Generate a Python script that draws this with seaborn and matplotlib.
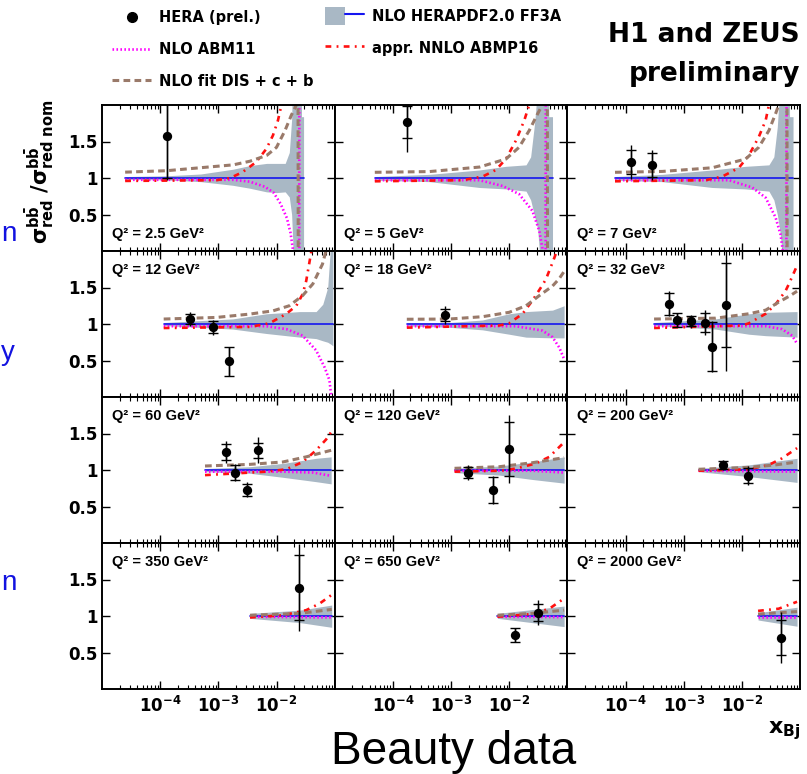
import numpy as np
import matplotlib
matplotlib.use("Agg")
import matplotlib.pyplot as plt
import seaborn as sns
from matplotlib.lines import Line2D
from matplotlib.patches import Patch
from matplotlib.legend_handler import HandlerTuple
from matplotlib.ticker import FixedLocator, LogLocator, NullFormatter

# ---------------- data ----------------
Q2_LABELS = ["2.5", "5", "7", "12", "18", "32", "60", "120", "200", "350", "650", "2000"]

# HERA (prel.) beauty reduced cross-section ratio
DATA_X = [
    [1.3e-4],
    [1.77e-4],
    [1.26e-4, 2.8e-4],
    [3.2e-4, 8.1e-4, 1.5e-3],
    [7.9e-4],
    [5.7e-4, 7.8e-4, 1.35e-3, 2.3e-3, 3.1e-3, 5.3e-3],
    [1.38e-3, 1.95e-3, 3.1e-3, 4.9e-3],
    [1.94e-3, 5.3e-3, 9.8e-3],
    [4.8e-3, 1.27e-2],
    [2.4e-2],
    [1.27e-2, 3.1e-2],
    [4.8e-2],
]
DATA_Y = [
    [1.57], [1.77], [1.22, 1.18], [1.07, 0.955, 0.49], [1.12],
    [1.28, 1.055, 1.036, 1.02, 0.69, 1.26],
    [1.25, 0.964, 0.73, 1.27],
    [0.964, 0.73, 1.29],
    [1.068, 0.923],
    [1.39],
    [0.74, 1.045],
    [0.705],
]
DATA_STAT = [
    [0.57], [0.22], [0.17, 0.16], [0.07, 0.08, 0.2], [0.08],
    [0.15, 0.09, 0.07, 0.13, 0.34, 0.57],
    [0.11, 0.10, 0.08, 0.10],
    [0.08, 0.18, 0.37],
    [0.05, 0.10],
    [0.45],
    [0.09, 0.12],
    [0.24],
]
DATA_TOT = [
    [0.60], [0.42], [0.23, 0.21], [0.10, 0.10, 0.20], [0.12],
    [0.17, 0.10, 0.09, 0.17, 0.35, 0.90],
    [0.15, 0.12, 0.10, 0.18],
    [0.10, 0.19, 0.47],
    [0.07, 0.13],
    [0.60],
    [0.10, 0.17],
    [0.35],
]

# NLO HERAPDF2.0 FF3A: nominal (=1) and uncertainty band
NOM_X = [
    [2.5e-5, 2.92e-2], [4.9e-5, 5.56e-2], [6.6e-5, 7.59e-2],
    [1.15e-4, 9.33e-2], [1.74e-4, 8.8e-2], [3.1e-4, 8.9e-2],
    [5.9e-4, 8.7e-2], [1.15e-3, 8.8e-2], [1.8e-3, 8.9e-2],
    [3.5e-3, 8.9e-2], [6.3e-3, 8.8e-2], [1.9e-2, 8.9e-2],
]
NOM_Y = [1.0, 1.0]

BAND_X = [
    [2.5e-5, 1.26e-4, 5.0e-4, 1.78e-3, 3.47e-3, 6.76e-3, 1.0e-2, 1.41e-2, 1.66e-2, 1.82e-2, 1.91e-2, 2.0e-2, 2.66e-2, 2.69e-2, 2.92e-2],
    [4.9e-5, 4.27e-4, 3.09e-3, 8.8e-3, 1.95e-2, 2.34e-2, 2.69e-2, 3.09e-2, 3.31e-2, 3.47e-2, 4.68e-2, 4.79e-2, 5.56e-2],
    [6.6e-5, 4.3e-4, 3.09e-3, 1.16e-2, 2.92e-2, 3.55e-2, 4.07e-2, 4.47e-2, 4.9e-2, 5.13e-2, 6.46e-2, 6.61e-2, 7.59e-2],
    [1.15e-4, 1.78e-3, 6.68e-3, 2.51e-2, 4.79e-2, 6.24e-2, 7.59e-2, 8.71e-2, 9.33e-2],
    [1.74e-4, 9.3e-4, 3.47e-3, 1.0e-2, 1.95e-2, 5.56e-2, 8.8e-2],
    [3.1e-4, 3.55e-3, 1.32e-2, 2.57e-2, 8.9e-2],
    [5.9e-4, 3.47e-3, 1.29e-2, 4.79e-2, 8.7e-2],
    [1.15e-3, 6.76e-3, 2.51e-2, 8.8e-2],
    [1.8e-3, 1.32e-2, 8.9e-2],
    [3.5e-3, 2.51e-2, 8.9e-2],
    [6.3e-3, 8.8e-2],
    [1.9e-2, 8.9e-2],
]
BAND_HI = [
    [1.02, 1.03, 1.055, 1.12, 1.17, 1.20, 1.20, 1.20, 1.35, 1.8, 2.5, 5, 5, 1.84, 1.84],
    [1.02, 1.05, 1.11, 1.16, 1.18, 1.29, 1.70, 2.2, 5, 5, 5, 1.84, 1.84],
    [1.02, 1.05, 1.11, 1.16, 1.18, 1.29, 1.70, 2.2, 5, 5, 5, 1.84, 1.84],
    [1.02, 1.07, 1.14, 1.17, 1.17, 1.27, 1.50, 2.2, 2.5],
    [1.015, 1.02, 1.055, 1.14, 1.17, 1.19, 1.25],
    [1.02, 1.07, 1.14, 1.16, 1.17],
    [1.02, 1.045, 1.09, 1.16, 1.18],
    [1.023, 1.055, 1.11, 1.18],
    [1.023, 1.07, 1.16],
    [1.036, 1.08, 1.15],
    [1.036, 1.136],
    [1.045, 1.12],
]
BAND_LO = [
    [0.98, 0.975, 0.95, 0.90, 0.86, 0.81, 0.80, 0.81, 0.74, 0.5, 0.1, -5, -5, -5, -5],
    [0.97, 0.95, 0.87, 0.85, 0.82, 0.70, 0.50, 0.30, 0.0, -5, -5, -5, -5],
    [0.97, 0.95, 0.87, 0.85, 0.82, 0.70, 0.50, 0.30, 0.0, -5, -5, -5, -5],
    [0.98, 0.93, 0.87, 0.82, 0.80, 0.77, 0.75, 0.72, 0.70],
    [0.975, 0.955, 0.92, 0.86, 0.82, 0.81, 0.81],
    [0.98, 0.93, 0.86, 0.84, 0.82],
    [0.977, 0.955, 0.90, 0.84, 0.81],
    [0.964, 0.93, 0.87, 0.82],
    [0.977, 0.91, 0.83],
    [0.968, 0.91, 0.845],
    [0.968, 0.855],
    [0.945, 0.86],
]

# NLO fit DIS + c + b (brown dashed)
DIS_X = [
    [2.5e-5, 1.3e-4, 4.8e-4, 1.8e-3, 3.5e-3, 6.8e-3, 1.0e-2, 1.4e-2, 1.8e-2, 2.2e-2, 2.34e-2, 2.37e-2],
    [4.9e-5, 4.27e-4, 3.09e-3, 8.8e-3, 1.48e-2, 2.21e-2, 3.09e-2, 3.72e-2, 3.98e-2, 4.52e-2, 4.57e-2],
    [6.6e-5, 4.3e-4, 3.09e-3, 1.16e-2, 1.95e-2, 2.92e-2, 3.8e-2, 4.3e-2, 4.68e-2, 5.96e-2, 6.03e-2],
    [1.15e-4, 9.3e-4, 3.47e-3, 8.7e-3, 1.66e-2, 2.82e-2, 4.22e-2, 6.17e-2, 7.08e-2, 7.94e-2],
    [1.74e-4, 9.3e-4, 3.47e-3, 1.0e-2, 1.95e-2, 3.31e-2, 5.56e-2, 7.24e-2, 8.8e-2],
    [3.1e-4, 3.55e-3, 1.32e-2, 2.57e-2, 4.32e-2, 6.84e-2, 8.9e-2],
    [5.9e-4, 3.47e-3, 1.29e-2, 3.24e-2, 6.24e-2, 8.7e-2],
    [1.15e-3, 6.76e-3, 2.51e-2, 4.9e-2, 8.8e-2],
    [1.8e-3, 1.32e-2, 3.8e-2, 8.9e-2],
    [3.5e-3, 2.51e-2, 8.9e-2],
    [6.3e-3, 2.51e-2, 8.8e-2],
    [1.9e-2, 8.9e-2],
]
DIS_Y = [
    [1.08, 1.10, 1.14, 1.18, 1.23, 1.31, 1.42, 1.65, 1.86, 2.0, 3.0, -1.0],
    [1.078, 1.088, 1.15, 1.26, 1.42, 1.65, 1.88, 2.0, 3.0, 3.0, -1.0],
    [1.078, 1.09, 1.14, 1.26, 1.42, 1.65, 1.88, 2.0, 3.0, 3.0, -1.0],
    [1.068, 1.09, 1.136, 1.18, 1.25, 1.39, 1.55, 1.82, 2.0, 2.3],
    [1.065, 1.068, 1.10, 1.16, 1.25, 1.39, 1.52, 1.62, 1.72],
    [1.068, 1.08, 1.14, 1.19, 1.30, 1.39, 1.45],
    [1.055, 1.077, 1.11, 1.18, 1.24, 1.27],
    [1.023, 1.045, 1.10, 1.136, 1.17],
    [1.01, 1.036, 1.07, 1.11],
    [1.01, 1.036, 1.09],
    [1.01, 1.036, 1.08],
    [1.027, 1.06],
]

# appr. NNLO ABMP16 (red dash-dot)
ABMP16_X = [
    [2.5e-5, 9.3e-4, 1.6e-3, 2.6e-3, 4.5e-3, 6.7e-3, 8.7e-3, 1.06e-2, 1.2e-2, 1.26e-2],
    [4.9e-5, 1.58e-3, 3.5e-3, 5.9e-3, 8.8e-3, 1.32e-2, 1.82e-2, 2.21e-2, 2.4e-2],
    [6.6e-5, 2.4e-3, 4.62e-3, 8.9e-3, 1.32e-2, 1.95e-2, 2.57e-2, 2.92e-2, 3.16e-2],
    [1.15e-4, 3.47e-3, 7.59e-3, 1.48e-2, 2.19e-2, 2.82e-2, 3.24e-2, 3.98e-2, 4.47e-2],
    [1.74e-4, 6.76e-3, 1.0e-2, 1.7e-2, 2.51e-2, 3.51e-2, 4.27e-2, 5.62e-2, 6.61e-2, 7.94e-2],
    [3.1e-4, 1.02e-2, 1.32e-2, 2.57e-2, 3.8e-2, 5.62e-2, 6.46e-2, 8.9e-2],
    [5.9e-4, 6.68e-3, 1.48e-2, 2.82e-2, 4.79e-2, 7.16e-2, 8.7e-2],
    [1.15e-3, 6.76e-3, 1.32e-2, 2.88e-2, 4.9e-2, 8.3e-2],
    [1.8e-3, 1.32e-2, 2.92e-2, 4.9e-2, 8.9e-2],
    [3.5e-3, 1.29e-2, 3.24e-2, 5.5e-2, 8.9e-2],
    [6.3e-3, 2.51e-2, 4.9e-2, 8.8e-2],
    [1.9e-2, 4.3e-2, 8.9e-2],
]
ABMP16_Y = [
    [0.96, 0.97, 1.0, 1.08, 1.22, 1.40, 1.585, 1.79, 1.98, 2.3],
    [0.955, 0.97, 1.02, 1.11, 1.26, 1.52, 1.79, 2.0, 2.4],
    [0.955, 0.97, 1.02, 1.14, 1.31, 1.56, 1.79, 2.0, 2.4],
    [0.945, 0.96, 1.01, 1.14, 1.25, 1.41, 1.59, 2.0, 2.3],
    [0.95, 0.98, 1.01, 1.14, 1.32, 1.5, 1.61, 1.85, 2.0, 2.3],
    [0.945, 0.98, 1.01, 1.14, 1.27, 1.45, 1.55, 1.8],
    [0.93, 0.977, 1.01, 1.11, 1.27, 1.42, 1.52],
    [0.977, 0.99, 1.02, 1.09, 1.18, 1.36],
    [0.99, 1.01, 1.07, 1.16, 1.30],
    [0.98, 1.01, 1.08, 1.17, 1.29],
    [0.99, 1.027, 1.10, 1.24],
    [1.07, 1.10, 1.195],
]

# NLO ABM11 (magenta dotted)
ABM11_X = [
    [2.5e-5, 1.78e-3, 3.47e-3, 6.3e-3, 8.9e-3, 1.17e-2, 1.51e-2, 1.74e-2, 1.9e-2, 1.95e-2, 2.45e-2, 2.48e-2],
    [4.9e-5, 3.09e-3, 7.76e-3, 1.48e-2, 2.51e-2, 3.31e-2, 3.72e-2, 3.8e-2, 4.22e-2, 4.27e-2],
    [6.6e-5, 6.0e-3, 1.51e-2, 2.57e-2, 3.8e-2, 4.62e-2, 5.07e-2, 5.25e-2, 5.82e-2, 5.89e-2],
    [1.15e-4, 6.68e-3, 1.48e-2, 2.82e-2, 4.79e-2, 6.68e-2, 8.13e-2, 8.71e-2, 8.91e-2],
    [1.74e-4, 1.3e-2, 3.72e-2, 5.56e-2, 7.24e-2, 8.8e-2],
    [3.1e-4, 2.57e-2, 4.9e-2, 7.33e-2, 8.9e-2],
    [5.9e-4, 1.29e-2, 4.27e-2, 8.7e-2],
    [1.15e-3, 2.51e-2, 8.8e-2],
    [1.8e-3, 8.9e-2],
    [3.5e-3, 8.9e-2],
    [6.3e-3, 8.8e-2],
    [1.9e-2, 8.9e-2],
]
ABM11_Y = [
    [0.975, 0.975, 0.95, 0.88, 0.80, 0.65, 0.45, 0.25, 0.04, -1.0, -1.0, 3.0],
    [0.97, 0.97, 0.89, 0.78, 0.55, 0.27, 0.04, -1.0, -1.0, 3.0],
    [0.97, 0.97, 0.87, 0.73, 0.46, 0.23, 0.0, -1.0, -1.0, 3.0],
    [0.97, 0.97, 0.93, 0.84, 0.64, 0.41, 0.23, 0.02, -0.5],
    [0.97, 0.97, 0.91, 0.82, 0.68, 0.52],
    [0.97, 0.97, 0.93, 0.84, 0.73],
    [0.977, 0.977, 0.965, 0.92],
    [0.99, 0.99, 0.965],
    [0.99, 0.977],
    [0.99, 0.98],
    [0.99, 0.985],
    [0.99, 0.99],
]

X_TICKS = [1e-4, 1e-3, 1e-2]
X_TICKLABELS = [r"$\mathbf{10^{-4}}$", r"$\mathbf{10^{-3}}$", r"$\mathbf{10^{-2}}$"]
Y_TICKS = [0.5, 1.0, 1.5]
Y_TICKLABELS = ["0.5", "1", "1.5"]

# ---------------- style ----------------
BAND_C = "#a9b8c5"
BLUE = "#1515f0"
MAGENTA = "#ff00ff"
RED = "#ff1010"
BROWN = "#9a7a6a"
DOTTED = (0, (0.6, 0.9))
DASHDOT = (0, (2.2, 2.0, 0.7, 2.0))
DASHED = (0, (2.2, 1.4))

sns.set_style("ticks")
plt.rcParams["font.family"] = ["DejaVu Sans"]
plt.rcParams["mathtext.fontset"] = "dejavusans"
plt.rcParams["axes.linewidth"] = 1.4
for key in ["text.color", "axes.labelcolor", "xtick.color", "ytick.color", "axes.edgecolor"]:
    plt.rcParams[key] = "black"

fig, axes = plt.subplots(4, 3, figsize=(8.07, 7.74), dpi=100)
fig.subplots_adjust(left=102 / 807, right=800 / 807, top=1 - 105 / 774,
                    bottom=1 - 689 / 774, wspace=0, hspace=0)

for i, ax in enumerate(axes.flat):
    r, c = divmod(i, 3)
    ax.set_xscale("log")
    ax.fill_between(BAND_X[i], BAND_LO[i], BAND_HI[i], color=BAND_C, lw=0, zorder=1)
    sns.lineplot(x=NOM_X[i], y=NOM_Y, color=BLUE, lw=1.2, ax=ax, zorder=2,
                 sort=False, estimator=None)
    sns.lineplot(x=ABM11_X[i], y=ABM11_Y[i], color=MAGENTA, lw=1.9, linestyle=DOTTED,
                 ax=ax, zorder=3, sort=False, estimator=None)
    sns.lineplot(x=ABMP16_X[i], y=ABMP16_Y[i], color=RED, lw=1.9, linestyle=DASHDOT,
                 ax=ax, zorder=4, sort=False, estimator=None)
    sns.lineplot(x=DIS_X[i], y=DIS_Y[i], color=BROWN, lw=2.2, linestyle=DASHED,
                 ax=ax, zorder=5, sort=False, estimator=None)
    ax.errorbar(DATA_X[i], DATA_Y[i], yerr=DATA_TOT[i], fmt="none", ecolor="k",
                elinewidth=1.0, capsize=0, zorder=6)
    ax.errorbar(DATA_X[i], DATA_Y[i], yerr=DATA_STAT[i], fmt="none", ecolor="k",
                elinewidth=1.0, capsize=3.4, capthick=1.0, zorder=6)
    sns.scatterplot(x=DATA_X[i], y=DATA_Y[i], color="k", s=45, edgecolor="k",
                    linewidth=0, ax=ax, zorder=7)

    ax.set_xlim(1e-5, 1e-1)
    ax.set_ylim(0, 2)
    ax.set_xlabel("")
    ax.set_ylabel("")
    ax.xaxis.set_major_locator(FixedLocator(X_TICKS))
    ax.xaxis.set_minor_locator(LogLocator(base=10, subs=np.arange(2, 10), numticks=20))
    ax.xaxis.set_minor_formatter(NullFormatter())
    ax.yaxis.set_major_locator(FixedLocator(Y_TICKS))
    ax.tick_params(which="both", direction="in", top=True, right=True,
                   bottom=True, left=True, color="black")
    ax.tick_params(which="major", length=6, width=1.0)
    ax.tick_params(which="minor", length=3, width=0.8)
    if r == 3:
        ax.set_xticklabels(X_TICKLABELS, fontsize=12)
        ax.tick_params(axis="x", pad=5)
    else:
        ax.tick_params(axis="x", labelbottom=False)
    if c == 0:
        ax.set_yticklabels(Y_TICKLABELS, fontsize=12, fontweight="bold")
        ax.tick_params(axis="y", pad=3)
    else:
        ax.tick_params(axis="y", labelleft=False)
    for s in ax.spines.values():
        s.set_linewidth(1.4)
        s.set_color("black")
        s.set_zorder(10)

    label = "Q\u00b2 = " + Q2_LABELS[i] + " GeV\u00b2"
    ypos = 0.087 if r == 0 else 0.845
    ax.text(0.042, ypos, label, transform=ax.transAxes, ha="left", va="baseline",
            fontsize=10.5, fontweight="bold", family=["Liberation Sans", "DejaVu Sans"],
            zorder=11)

# y-axis title
fig.text(40 / 807, 1 - 172 / 774,
         r"$\mathbf{\sigma^{b\bar{b}}_{red}\ /\sigma^{b\bar{b}}_{red\ nom}}$",
         rotation=90, ha="center", va="center", fontsize=15)
# x-axis title
fig.text(800 / 807, 1 - 733 / 774, r"$\mathbf{x_{Bj}}$", ha="right", va="baseline",
         fontsize=16)

# experiment label
fig.text(800 / 807, 1 - 42 / 774, "H1 and ZEUS", ha="right", va="baseline",
         fontsize=19, fontweight="bold")
fig.text(800 / 807, 1 - 81 / 774, "preliminary", ha="right", va="baseline",
         fontsize=19, fontweight="bold")

# slide text overlays
fig.text(454 / 807, 1 - 764 / 774, "Beauty data", ha="center", va="baseline",
         fontsize=33, color="black", family=["Liberation Sans", "DejaVu Sans"])
for ch, yb in [("n", 241), ("y", 360), ("n", 590)]:
    fig.text(1 / 807, 1 - yb / 774, ch, ha="left", va="baseline", fontsize=20,
             color="#1212e0", family=["Liberation Sans", "DejaVu Sans"])

# legends
h_hera = Line2D([], [], marker="o", linestyle="none", color="k", markersize=7)
h_abm11 = Line2D([], [], color=MAGENTA, lw=1.9, linestyle=DOTTED)
h_dis = Line2D([], [], color=BROWN, lw=2.2, linestyle=DASHED)
h_hera_pdf = (Patch(facecolor=BAND_C, edgecolor="none"), Line2D([], [], color=BLUE, lw=1.5))
h_abmp16 = Line2D([], [], color=RED, lw=1.9, linestyle=DASHDOT)

prop = {"weight": "bold", "size": 10.5}
fig.legend([h_hera, h_abm11, h_dis], ["HERA (prel.)", "NLO ABM11", "NLO fit DIS + c + b"],
           loc="upper left", bbox_to_anchor=(112 / 807, 1 - 10 / 774), frameon=False,
           prop=prop, handlelength=2.7, handletextpad=0.55, labelspacing=1.15,
           borderpad=0, borderaxespad=0)
fig.legend([h_hera_pdf, h_abmp16], ["NLO HERAPDF2.0 FF3A", "appr. NNLO ABMP16"],
           loc="upper left", bbox_to_anchor=(325 / 807, 1 - 7 / 774), frameon=False,
           prop=prop, handlelength=2.7, handletextpad=0.55, labelspacing=1.0,
           handleheight=1.5, borderpad=0, borderaxespad=0,
           handler_map={tuple: HandlerTuple(ndivide=None, pad=0)})

fig.savefig("out.png", dpi=100, facecolor="white")
